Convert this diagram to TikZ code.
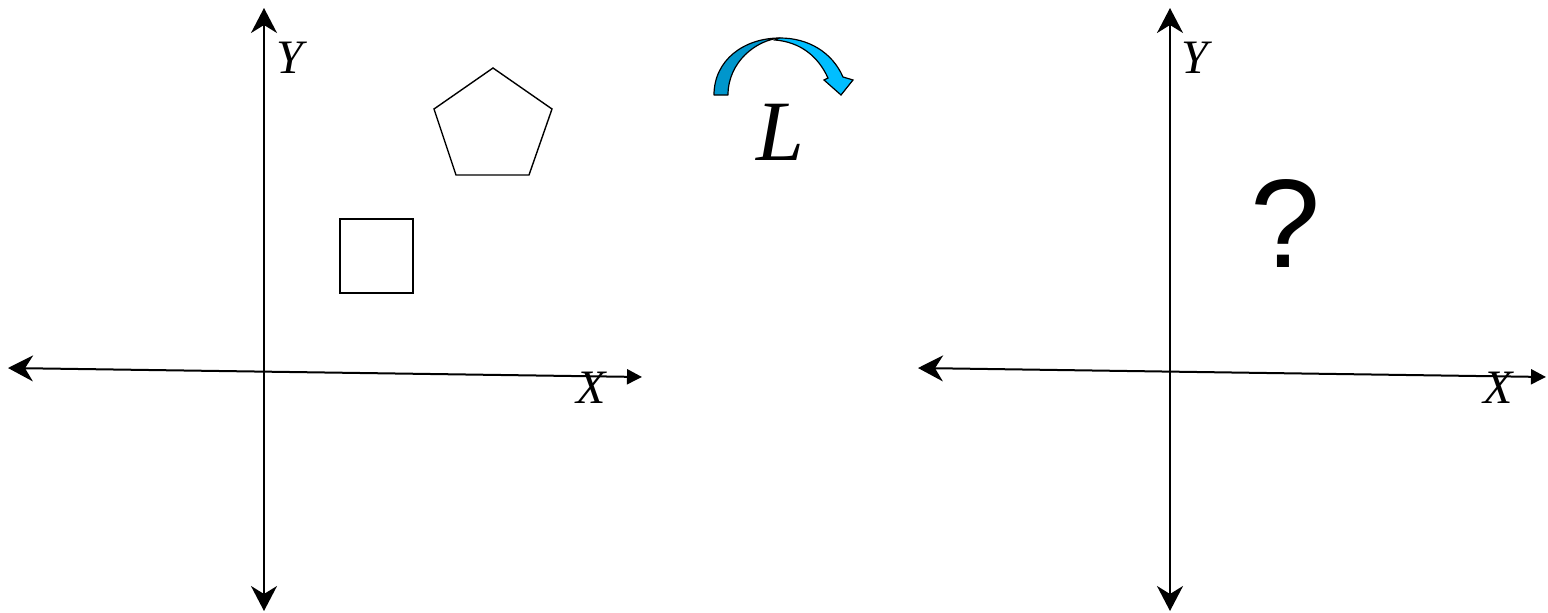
\documentclass[tikz,border=0pt]{standalone}
\usepackage{fontspec}
\setmainfont{Liberation Serif}
\newfontfamily\qfont{Liberation Sans}
\usetikzlibrary{arrows.meta}
\definecolor{arrdark}{RGB}{0,150,204}
\definecolor{arrlight}{RGB}{0,190,255}
\tikzset{
  axis/.style={line width=2pt, {Stealth[length=25pt,width=26pt,inset=8pt]}-{Triangle[length=15pt,width=15pt]}},
  vaxis/.style={line width=2pt, {Stealth[length=25pt,width=26pt,inset=8pt]}-{Stealth[length=25pt,width=26pt,inset=8pt]}},
  shapeline/.style={draw=black, line width=1.4pt, line join=miter},
  lab/.style={font=\fontsize{48}{48}\selectfont\itshape, inner sep=0pt},
}
\begin{document}
\begin{tikzpicture}[x=1pt,y=-1pt]
\useasboundingbox (0,0) rectangle (1548,613);
% left axes
\coordinate (lxl) at (8,368);
\coordinate (lxr) at (642,377);
\coordinate (lyt) at (264,8);
\coordinate (lyb) at (264,611);
\draw[axis] (lxl) -- (lxr);
\draw[vaxis] (lyb) -- (lyt);
\node[lab] (ly) at (290,58) {Y};
\node[lab] (lx) at (591,388) {X};
% square
\draw[shapeline] (340,219) rectangle (413,293);
% pentagon
\draw[shapeline] (493,68) -- (552,109) -- (529,175) -- (456,175) -- (434,109) -- cycle;
% rotation arrow
\draw[fill=arrdark, line width=1.2pt, line join=round]
  (714,95) .. controls (714,60) and (744,38) .. (780,38)
  .. controls (756,40) and (728,62) .. (728,95) -- cycle;
\draw[fill=arrlight, line width=1.2pt, line join=miter]
  (780,38) .. controls (808,38) and (832,52) .. (843,77)
  -- (853,80) -- (841,95) -- (824,80) -- (828,78)
  .. controls (818,56) and (800,42) .. (775,40)
  .. controls (777,39) and (778,38) .. (780,38) -- cycle;
\node[font=\fontsize{86}{86}\selectfont\itshape, inner sep=0pt] (L) at (780,132) {L};
% right axes
\coordinate (rxl) at (918,368);
\coordinate (rxr) at (1546,377);
\coordinate (ryt) at (1170,8);
\coordinate (ryb) at (1170,611);
\draw[axis] (rxl) -- (rxr);
\draw[vaxis] (ryb) -- (ryt);
\node[lab] (ry) at (1195,58) {Y};
\node[lab] (rx) at (1498,388) {X};
\node[font=\fontsize{126}{126}\qfont, inner sep=0pt] (q) at (1286,224) {?};
\end{tikzpicture}
\end{document}
